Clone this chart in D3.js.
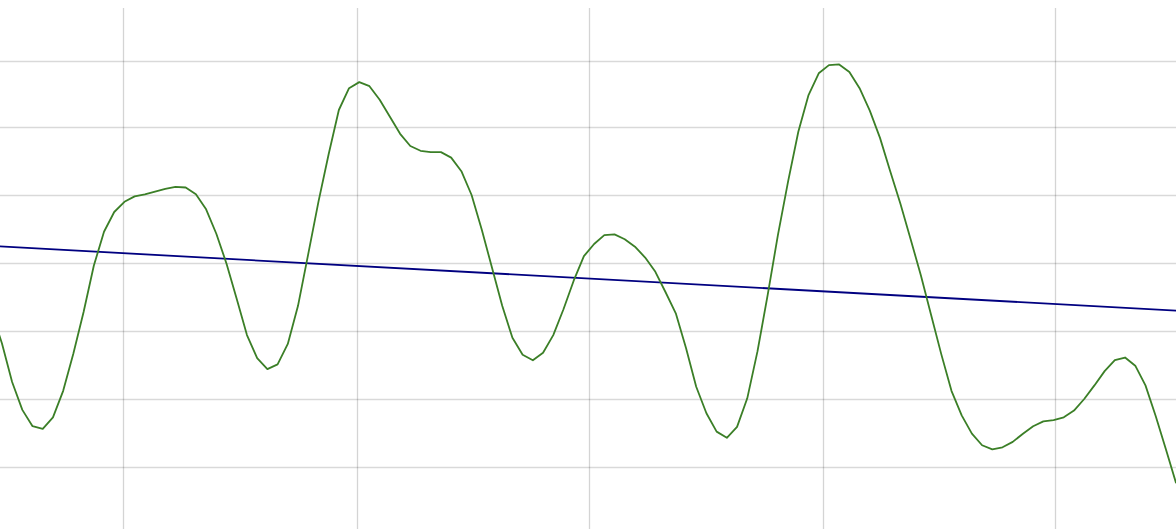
<!DOCTYPE html>
<html>
<head>
<meta charset="utf-8">
<script src="https://cdn.jsdelivr.net/npm/d3@7"></script>
<style>
  html, body { margin: 0; padding: 0; background: #ffffff; overflow: hidden; }
  svg { display: block; }
</style>
</head>
<body>
<div id="chart"></div>
<script>
// Sample index (x) and series values
const seriesValues = [
  2.28, 1.82, 1.25, 0.84, 0.60, 0.56, 0.73, 1.12, 1.67, 2.28,
  2.96, 3.46, 3.75, 3.90, 3.98, 4.01, 4.05, 4.09, 4.12, 4.11,
  4.01, 3.79, 3.43, 2.99, 2.47, 1.94, 1.60, 1.44, 1.51, 1.81,
  2.37, 3.13, 3.90, 4.60, 5.25, 5.57, 5.66, 5.60, 5.40, 5.15,
  4.90, 4.72, 4.65, 4.63, 4.63, 4.55, 4.35, 4.00, 3.49, 2.93,
  2.37, 1.90, 1.65, 1.57, 1.68, 1.94, 2.32, 2.74, 3.10, 3.28,
  3.41, 3.42, 3.35, 3.24, 3.08, 2.87, 2.57, 2.26, 1.75, 1.18,
  0.79, 0.52, 0.43, 0.59, 1.01, 1.70, 2.53, 3.41, 4.20, 4.93,
  5.47, 5.79, 5.91, 5.92, 5.81, 5.57, 5.24, 4.84, 4.35, 3.87,
  3.35, 2.82, 2.24, 1.66, 1.12, 0.76, 0.49, 0.32, 0.26, 0.29,
  0.37, 0.49, 0.60, 0.67, 0.69, 0.73, 0.83, 1.00, 1.20, 1.41,
  1.57, 1.61, 1.49, 1.20, 0.75, 0.26, -0.24
];
const sampleIndex = seriesValues.map((_, i) => i);

// Trend line endpoints
const trendX = [0, 116];
const trendY = [3.25, 2.30];

// Grid tick positions (in data units)
const xTicks = [12.86, 35.78, 58.50, 81.39, 104.11];
const yTicks = [0, 1, 2, 3, 4, 5, 5.97];
const yTop = 6.75;

const width = 1176, height = 529;

const svg = d3.select("#chart").append("svg")
  .attr("width", width).attr("height", height);

const x = d3.scaleLinear().domain([0, 116]).range([-8.3, 1176.1]);
const y = d3.scaleLinear().domain([0, 6]).range([467, 59]);

// horizontal grid
svg.append("g").selectAll("line")
  .data(yTicks).join("line")
  .attr("x1", 0).attr("x2", width)
  .attr("y1", d => Math.round(y(d)) + 0.5).attr("y2", d => Math.round(y(d)) + 0.5)
  .attr("stroke", "#000").attr("stroke-opacity", 0.15).attr("stroke-width", 1.3);

// vertical grid
svg.append("g").selectAll("line")
  .data(xTicks).join("line")
  .attr("x1", d => Math.round(x(d)) + 0.5).attr("x2", d => Math.round(x(d)) + 0.5)
  .attr("y1", y(yTop)).attr("y2", height)
  .attr("stroke", "#000").attr("stroke-opacity", 0.17).attr("stroke-width", 1.3);

// trend line
const trend = trendX.map((d, i) => [d, trendY[i]]);
svg.append("path")
  .datum(trend)
  .attr("fill", "none")
  .attr("stroke", "#000080")
  .attr("stroke-width", 1.8)
  .attr("d", d3.line().x(d => x(d[0])).y(d => y(d[1])));

// series line
const pts = sampleIndex.map((d, i) => [d, seriesValues[i]]);
svg.append("path")
  .datum(pts)
  .attr("fill", "none")
  .attr("stroke", "#3b7f27")
  .attr("stroke-width", 1.8)
  .attr("stroke-linejoin", "round")
  .attr("d", d3.line().x(d => x(d[0])).y(d => y(d[1])));
</script>
</body>
</html>
